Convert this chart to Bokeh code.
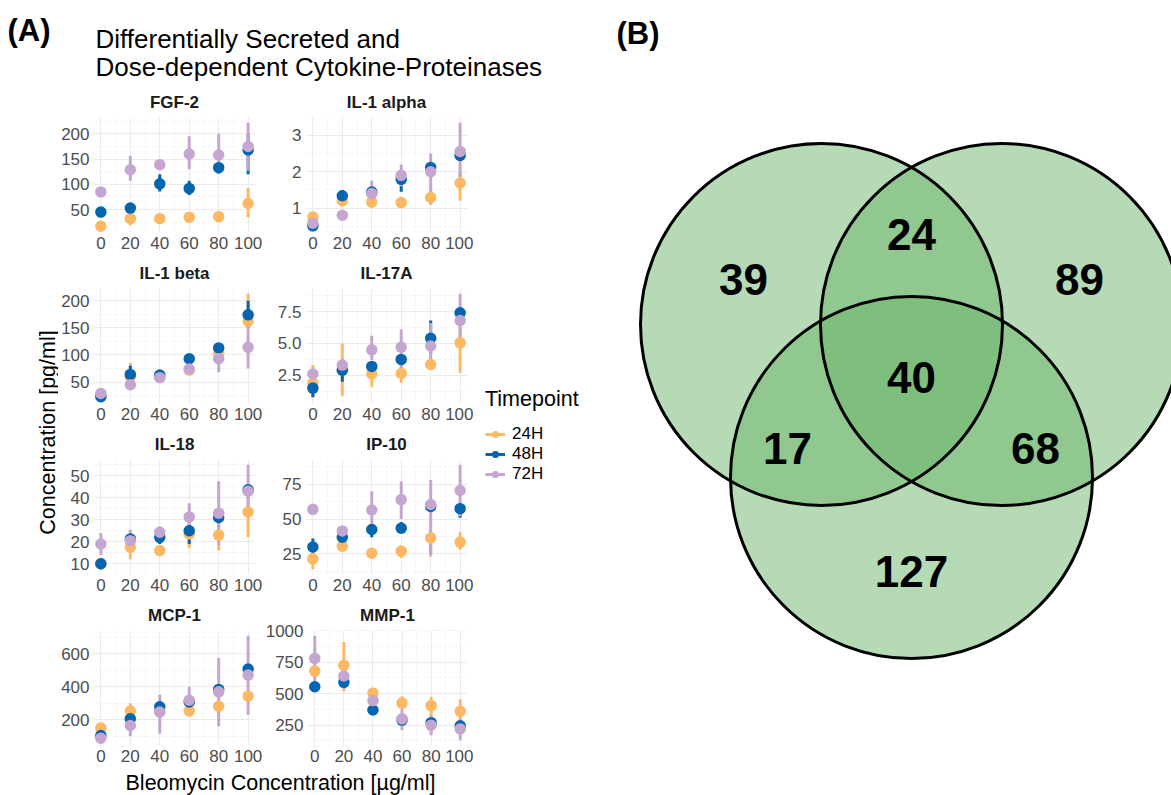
import math
from bokeh.plotting import figure
from bokeh.layouts import row, column
from bokeh.models import Range1d, FixedTicker, Label, Legend, LegendItem, NumeralTickFormatter
from bokeh.embed import file_html
from bokeh.resources import INLINE
from bokeh.core.properties import value

FONT = "Liberation Sans"

# ---------------- data ----------------
DOSES = [0, 20, 40, 60, 80, 100]
DOSE_MINOR = [10, 30, 50, 70, 90]
TIMEPOINTS = ["24H", "48H", "72H"]
TP_COLORS = ["#FDB863", "#0565AF", "#C4A6D0"]

# rows: 24H, 48H, 72H
FGF2_MEAN = [[17, 32, 32, 35, 36, 62], [45, 53, 101, 92, 133, 168], [85, 129, 139, 160, 158, 175]]
FGF2_LO = [[15, 19, 29, 32, 33, 35], [42, 50, 86, 79, 122, 120], [82, 107, 133, 130, 120, 127]]
FGF2_HI = [[19, 43, 35, 38, 39, 93], [48, 56, 120, 107, 144, 200], [88, 156, 145, 195, 200, 222]]
FGF2_TICKS = [50, 100, 150, 200]

IL1A_MEAN = [[0.75, 1.2, 1.16, 1.15, 1.29, 1.69], [0.51, 1.34, 1.44, 1.79, 2.12, 2.45], [0.58, 0.8, 1.4, 1.9, 2.0, 2.56]]
IL1A_LO = [[0.62, 1.05, 1.1, 1.1, 1.1, 1.2], [0.47, 1.2, 1.35, 1.45, 2.0, 2.3], [0.55, 0.77, 1.15, 1.6, 1.1, 1.75]]
IL1A_HI = [[0.88, 1.35, 1.22, 1.2, 1.45, 2.0], [0.55, 1.5, 1.5, 1.95, 2.25, 2.55], [0.62, 0.83, 1.75, 2.2, 2.5, 3.35]]
IL1A_TICKS = [1, 2, 3]

IL1B_MEAN = [[25, 60, 60, 72, 103, 162], [23, 64, 63, 93, 113, 174], [29, 45, 58, 74, 93, 114]]
IL1B_LO = [[22, 40, 52, 68, 95, 150], [20, 48, 58, 85, 105, 150], [26, 40, 54, 70, 68, 75]]
IL1B_HI = [[28, 85, 72, 78, 112, 213], [26, 80, 68, 101, 120, 200], [32, 50, 62, 78, 118, 158]]
IL1B_TICKS = [50, 100, 150, 200]

IL17A_MEAN = [[1.9, 2.9, 2.6, 2.65, 3.35, 5.05], [1.5, 2.9, 3.2, 3.75, 5.4, 7.4], [2.6, 3.3, 4.5, 4.7, 4.8, 6.8]]
IL17A_LO = [[0.7, 0.9, 1.6, 1.9, 2.9, 2.7], [0.8, 2.0, 3.0, 3.4, 4.2, 7.2], [2.3, 2.9, 3.7, 3.0, 3.0, 5.0]]
IL17A_HI = [[3.3, 5.0, 3.3, 3.3, 3.8, 7.4], [2.2, 3.6, 3.4, 4.1, 6.8, 7.6], [3.0, 3.8, 5.6, 6.1, 6.6, 8.9]]
IL17A_TICKS = [2.5, 5.0, 7.5]

IL18_MEAN = [[10, 17.5, 16, 23.5, 23, 33.5], [10, 21.3, 22, 25, 31, 43.6], [19, 20.5, 24.3, 31.3, 33, 43]]
IL18_LO = [[8, 12, 14.5, 17, 16, 22], [7.5, 19, 19, 19, 29, 42], [14, 17, 22, 25, 18.5, 33]]
IL18_HI = [[12, 22, 17.5, 28, 30, 40], [12.5, 23, 24, 28, 35, 45], [24, 25.5, 27, 37.5, 47.5, 55]]
IL18_TICKS = [10, 20, 30, 40, 50]

IP10_MEAN = [[21.5, 30.5, 25.5, 27, 36.5, 33.5], [30, 37, 42.5, 43.5, 59, 57.5], [57, 41.5, 56.5, 64, 60.5, 70.5]]
IP10_LO = [[14, 28, 23.5, 22, 23, 28], [26, 30, 37, 40, 56, 51], [55, 40, 43, 50, 24, 52]]
IP10_HI = [[26, 33, 27.5, 31, 43, 41], [36, 45, 46, 48, 62, 60], [59, 44, 70, 77, 78, 89]]
IP10_TICKS = [25, 50, 75]

MCP1_MEAN = [[149, 253, 248, 253, 282, 343], [104, 206, 278, 308, 384, 508], [88, 165, 247, 318, 369, 471]]
MCP1_LO = [[125, 200, 240, 240, 270, 330], [85, 180, 250, 285, 365, 490], [75, 100, 115, 245, 160, 230]]
MCP1_HI = [[160, 300, 256, 265, 295, 355], [120, 225, 300, 330, 400, 530], [100, 220, 352, 400, 575, 710]]
MCP1_TICKS = [200, 400, 600]

MMP1_MEAN = [[679, 725, 505, 425, 405, 360], [555, 590, 370, 290, 270, 245], [780, 640, 445, 300, 250, 220]]
MMP1_LO = [[640, 520, 470, 380, 330, 270], [530, 560, 340, 260, 240, 210], [600, 540, 400, 210, 170, 130]]
MMP1_HI = [[720, 910, 540, 480, 475, 455], [580, 620, 400, 320, 300, 280], [960, 720, 520, 380, 330, 300]]
MMP1_TICKS = [250, 500, 750, 1000]

PANEL_NAMES = ["FGF-2", "IL-1 alpha", "IL-1 beta", "IL-17A", "IL-18", "IP-10", "MCP-1", "MMP-1"]
PANEL_MEAN = [FGF2_MEAN, IL1A_MEAN, IL1B_MEAN, IL17A_MEAN, IL18_MEAN, IP10_MEAN, MCP1_MEAN, MMP1_MEAN]
PANEL_LO = [FGF2_LO, IL1A_LO, IL1B_LO, IL17A_LO, IL18_LO, IP10_LO, MCP1_LO, MMP1_LO]
PANEL_HI = [FGF2_HI, IL1A_HI, IL1B_HI, IL17A_HI, IL18_HI, IP10_HI, MCP1_HI, MMP1_HI]
PANEL_TICKS = [FGF2_TICKS, IL1A_TICKS, IL1B_TICKS, IL17A_TICKS, IL18_TICKS, IP10_TICKS, MCP1_TICKS, MMP1_TICKS]

VENN_COUNTS = [39, 24, 89, 40, 17, 68, 127]

TITLE_LINES = ["Differentially Secreted and", "Dose-dependent Cytokine-Proteinases"]
X_TITLE = "Bleomycin Concentration [µg/ml]"
Y_TITLE = "Concentration [pg/ml]"
LEGEND_TITLE = "Timepoint"

# ---------------- layout constants (page pixels) ----------------
HEAD_H = 85
ROW_H = 171
TOP_B, BOT_B = 32, 24
ROWS_BOTTOM = HEAD_H + 4 * ROW_H   # 769
PAGE_W, PAGE_H = 1171, 795
LEFT_W = 600


def minor_from(ticks):
    step = ticks[1] - ticks[0]
    out = []
    t = ticks[0] - 1.5 * step
    while t <= ticks[-1] + 1.5 * step + 1e-9:
        out.append(round(t, 6))
        t += step
    return out


def blank(w, h, x0, x1, y0, y1):
    p = figure(width=w, height=h, x_range=Range1d(x0, x1), y_range=Range1d(y0, y1),
               output_backend="svg", toolbar_location=None, min_border=0,
               x_axis_type=None, y_axis_type=None, title=None)
    p.outline_line_color = None
    p.background_fill_color = "white"
    p.border_fill_color = "white"
    return p


def txt(x, y, text, size, bold=False, align="left", angle=0.0):
    return Label(x=x, y=y, text=text, text_font=FONT, text_font_size=size,
                 text_font_style="bold" if bold else "normal", text_color="black",
                 text_align=align, text_baseline="middle", angle=angle)


def make_facet(i, col):
    name = PANEL_NAMES[i]
    mean, lo, hi, ticks = PANEL_MEAN[i], PANEL_LO[i], PANEL_HI[i], PANEL_TICKS[i]
    ymin = min(min(r) for r in lo + mean)
    ymax = max(max(r) for r in hi + mean)
    pad = 0.05 * (ymax - ymin)
    if col == 0:
        w, bl, br = 204, 35, 7
    else:
        w, bl, br = 211, 43, 6
    p = figure(width=w, height=ROW_H, x_range=Range1d(-5, 105),
               y_range=Range1d(ymin - pad, ymax + pad), title=name,
               output_backend="svg", toolbar_location=None,
               min_border_left=bl, min_border_right=br,
               min_border_top=TOP_B, min_border_bottom=BOT_B)
    p.outline_line_color = None
    p.background_fill_color = "white"
    p.border_fill_color = "white"
    p.title.align = "center"
    p.title.vertical_align = "middle"
    p.title.text_font = FONT
    p.title.text_font_size = "17px"
    p.title.text_font_style = "bold"
    p.title.text_color = "#1A1A1A"
    p.xaxis.ticker = FixedTicker(ticks=DOSES, minor_ticks=DOSE_MINOR)
    p.yaxis.ticker = FixedTicker(ticks=ticks, minor_ticks=minor_from(ticks))
    if name == "IL-17A":
        p.yaxis.formatter = NumeralTickFormatter(format="0.0")
    for ax in [p.xaxis[0], p.yaxis[0]]:
        ax.axis_line_color = None
        ax.major_tick_line_color = None
        ax.minor_tick_line_color = None
        ax.major_tick_out = 0
        ax.major_tick_in = 0
        ax.minor_tick_out = 0
        ax.minor_tick_in = 0
        ax.major_label_text_font = FONT
        ax.major_label_text_font_size = "17px"
        ax.major_label_text_color = "#4D4D4D"
        ax.major_label_standoff = 4
    p.grid.grid_line_color = "#EBEBEB"
    p.grid.grid_line_width = 1.1
    p.grid.minor_grid_line_color = "#F2F2F2"
    p.grid.minor_grid_line_width = 0.6
    for k in range(3):
        p.segment(x0=DOSES, y0=lo[k], x1=DOSES, y1=hi[k],
                  line_color=TP_COLORS[k], line_width=3)
    for k in range(3):
        p.scatter(x=DOSES, y=mean[k], size=11.5, fill_color=TP_COLORS[k], line_color=None)
    return p


# header (page coordinates)
header = blank(LEFT_W, HEAD_H, 0, LEFT_W, HEAD_H, 0)
header.add_layout(txt(7, 30, "(A)", "31px", bold=True))
header.add_layout(txt(95, 38, TITLE_LINES[0], "26px"))
header.add_layout(txt(95, 66, TITLE_LINES[1], "26px"))

# y title
ylab = blank(58, 4 * ROW_H, 0, 58, ROWS_BOTTOM, HEAD_H)
ylab.add_layout(txt(47, 432, Y_TITLE, "21.5px", align="center", angle=math.pi / 2))

# facets
rows = []
for r in range(4):
    rows.append(row(make_facet(2 * r, 0), make_facet(2 * r + 1, 1)))
facets = column(*rows)

# legend (proxy renderers lie outside the visible x range of this small figure)
legf = blank(127, 4 * ROW_H, -400, -273, 0, 4 * ROW_H)
items = []
for k in range(3):
    rs = legf.segment(x0=DOSES, y0=FGF2_LO[k], x1=DOSES, y1=FGF2_HI[k],
                      line_color=TP_COLORS[k], line_width=3)
    rp = legf.scatter(x=DOSES, y=FGF2_MEAN[k], fill_color=TP_COLORS[k], line_color=None, size=9)
    items.append(LegendItem(label=TIMEPOINTS[k], renderers=[rs, rp]))
leg = Legend(items=items, location=(12, 285), title=LEGEND_TITLE,
             title_text_font=FONT, title_text_font_size="21.5px", title_text_color="black",
             title_text_font_style="normal",
             title_standoff=12, label_text_font=FONT, label_text_font_size="17px",
             label_text_color="black", glyph_width=20, glyph_height=18, label_height=18,
             spacing=0, label_standoff=7, padding=0, margin=0,
             border_line_color=None, background_fill_alpha=0)
legf.add_layout(leg)

middle = row(ylab, facets, legf)

# x title
xlab = blank(LEFT_W, PAGE_H - ROWS_BOTTOM, 0, LEFT_W, PAGE_H, ROWS_BOTTOM)
xlab.add_layout(txt(280, 782, X_TITLE, "21.5px", align="center"))

left = column(header, middle, xlab)

# venn (page coordinates)
V_CX = [821, 1001, 911]
V_CY = [324, 324, 477]
V_R = 181
VL_X = [743, 911, 1079, 911, 787, 1035, 911]
VL_Y = [279, 234, 279, 377, 448, 448, 571]

venn = blank(PAGE_W - LEFT_W, PAGE_H, LEFT_W, PAGE_W, PAGE_H, 0)
venn.circle(x=V_CX, y=V_CY, radius=V_R, fill_color="#6BB56B", fill_alpha=0.5, line_color=None)
venn.circle(x=V_CX, y=V_CY, radius=V_R, fill_color=None, line_color="black", line_width=3)
venn.text(x=VL_X, y=VL_Y, text=[str(c) for c in VENN_COUNTS], text_font=value(FONT),
          text_font_style="bold", text_font_size="44px", text_align="center",
          text_baseline="middle", text_color="black")
venn.add_layout(txt(616, 33, "(B)", "31px", bold=True))

root = row(left, venn)
open("out.html", "w").write(file_html(root, INLINE))
